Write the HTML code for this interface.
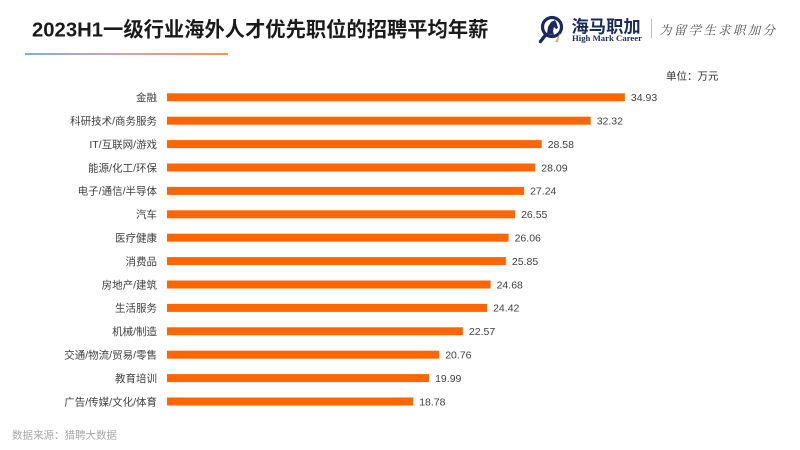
<!DOCTYPE html>
<html>
<head>
<meta charset="utf-8">
<style>
html,body{margin:0;padding:0;background:#fff;}
svg{display:block;}
text{font-family:"Liberation Sans","Noto Sans CJK SC",sans-serif;}
</style>
</head>
<body>
<svg width="800" height="450" viewBox="0 0 800 450" xmlns="http://www.w3.org/2000/svg">
<defs>
<linearGradient id="ul" x1="0" x2="1" y1="0" y2="0">
<stop offset="0" stop-color="#7eaee2"/>
<stop offset="0.5" stop-color="#d3a3ae"/>
<stop offset="1" stop-color="#f7935a"/>
</linearGradient>
</defs>
<rect width="800" height="450" fill="#fff"/>
<text x="32" y="36.5" font-size="20.3" font-weight="bold" fill="#1a1a1a">2023H1一级行业海外人才优先职位的招聘平均年薪</text>
<rect x="25" y="53" width="203" height="2" fill="url(#ul)"/>

<!-- logo -->
<g>
<circle cx="552" cy="27" r="9.5" fill="none" stroke="#1b2a5c" stroke-width="3.2"/>
<line x1="545.5" y1="35" x2="540.5" y2="41.5" stroke="#1b2a5c" stroke-width="3.4" stroke-linecap="round"/>
<path d="M547 34 L548 27 L551 22 L555 20 L556.5 23 L558 28 L556 29 L554 27 L553 31 L554 35 Z" fill="#1b2a5c"/>
<path d="M555 42 L560 33 L558 42 Z" fill="#d8b46a"/>
<text x="571.5" y="32.5" font-size="17.3" font-weight="bold" fill="#1b2a5c" style="font-family:'Noto Sans CJK SC',sans-serif">海马职加</text>
<text x="572" y="41" font-size="8" font-weight="bold" fill="#1b2a5c" style="font-family:'Liberation Serif',serif" textLength="70" lengthAdjust="spacingAndGlyphs">High Mark Career</text>
<line x1="651.5" y1="19" x2="651.5" y2="38" stroke="#bbb" stroke-width="1"/>
<text x="659" y="34.5" font-size="12.5" fill="#555" style="font-family:'Noto Serif CJK SC',serif;font-style:italic" textLength="116" lengthAdjust="spacing">为留学生求职加分</text>
</g>

<text x="666" y="79.5" font-size="10.5" fill="#333">单位：万元</text>

<g font-size="10.5" fill="#404040">
<g>
<rect x="167" y="93.3" width="457.9" height="8" fill="#ff6600"/>
<text x="157" y="101.1" text-anchor="end">金融</text>
<text x="630.9" y="101.1">34.93</text>
</g>
<g>
<rect x="167" y="116.7" width="423.7" height="8" fill="#ff6600"/>
<text x="157" y="124.5" text-anchor="end">科研技术/商务服务</text>
<text x="596.7" y="124.5">32.32</text>
</g>
<g>
<rect x="167" y="140.1" width="374.7" height="8" fill="#ff6600"/>
<text x="157" y="147.9" text-anchor="end">IT/互联网/游戏</text>
<text x="547.7" y="147.9">28.58</text>
</g>
<g>
<rect x="167" y="163.5" width="368.3" height="8" fill="#ff6600"/>
<text x="157" y="171.3" text-anchor="end">能源/化工/环保</text>
<text x="541.3" y="171.3">28.09</text>
</g>
<g>
<rect x="167" y="186.9" width="357.1" height="8" fill="#ff6600"/>
<text x="157" y="194.7" text-anchor="end">电子/通信/半导体</text>
<text x="530.1" y="194.7">27.24</text>
</g>
<g>
<rect x="167" y="210.3" width="348.1" height="8" fill="#ff6600"/>
<text x="157" y="218.1" text-anchor="end">汽车</text>
<text x="521.1" y="218.1">26.55</text>
</g>
<g>
<rect x="167" y="233.7" width="341.6" height="8" fill="#ff6600"/>
<text x="157" y="241.5" text-anchor="end">医疗健康</text>
<text x="514.6" y="241.5">26.06</text>
</g>
<g>
<rect x="167" y="257.1" width="338.9" height="8" fill="#ff6600"/>
<text x="157" y="264.9" text-anchor="end">消费品</text>
<text x="511.9" y="264.9">25.85</text>
</g>
<g>
<rect x="167" y="280.5" width="323.6" height="8" fill="#ff6600"/>
<text x="157" y="288.3" text-anchor="end">房地产/建筑</text>
<text x="496.6" y="288.3">24.68</text>
</g>
<g>
<rect x="167" y="303.9" width="320.1" height="8" fill="#ff6600"/>
<text x="157" y="311.7" text-anchor="end">生活服务</text>
<text x="493.1" y="311.7">24.42</text>
</g>
<g>
<rect x="167" y="327.3" width="295.9" height="8" fill="#ff6600"/>
<text x="157" y="335.1" text-anchor="end">机械/制造</text>
<text x="468.9" y="335.1">22.57</text>
</g>
<g>
<rect x="167" y="350.7" width="272.2" height="8" fill="#ff6600"/>
<text x="157" y="358.5" text-anchor="end">交通/物流/贸易/零售</text>
<text x="445.2" y="358.5">20.76</text>
</g>
<g>
<rect x="167" y="374.1" width="262.1" height="8" fill="#ff6600"/>
<text x="157" y="381.9" text-anchor="end">教育培训</text>
<text x="435.1" y="381.9">19.99</text>
</g>
<g>
<rect x="167" y="397.5" width="246.2" height="8" fill="#ff6600"/>
<text x="157" y="405.3" text-anchor="end">广告/传媒/文化/体育</text>
<text x="419.2" y="405.3">18.78</text>
</g>
</g>

<text x="12" y="438.5" font-size="10.5" fill="#a8a8a8">数据来源：猎聘大数据</text>
</svg>
</body>
</html>
